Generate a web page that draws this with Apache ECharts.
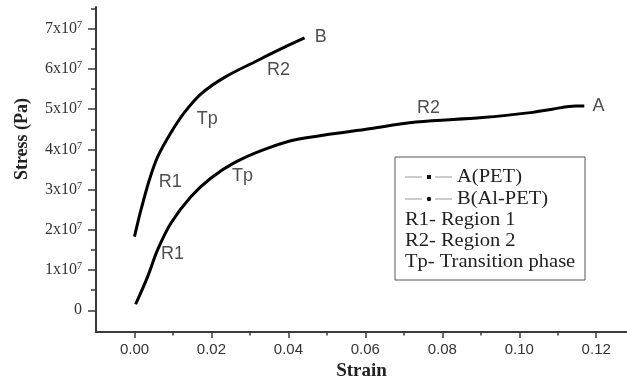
<!DOCTYPE html>
<html>
<head>
<meta charset="utf-8">
<script src="https://cdn.jsdelivr.net/npm/echarts@6/dist/echarts.min.js"></script>
<style>
  html, body { margin: 0; padding: 0; background: #fff; }
  #box { width: 627px; height: 381px; }
</style>
</head>
<body>
<div id="box"></div>
<script>
// 曲线数据 [strain, stress]
var curveA = [
    [0.0003, 0.15e7], [0.0034, 0.83e7], [0.0060, 1.50e7], [0.0095, 2.17e7],
    [0.0147, 2.83e7], [0.0199, 3.29e7], [0.0260, 3.67e7], [0.0338, 4.00e7],
    [0.0424, 4.25e7], [0.0602, 4.50e7], [0.0732, 4.68e7], [0.0905, 4.79e7],
    [0.1035, 4.92e7], [0.1086, 5.00e7], [0.1147, 5.08e7], [0.1169, 5.08e7]
];
var curveB = [
    [0.0000, 1.83e7], [0.0017, 2.50e7], [0.0039, 3.25e7], [0.0061, 3.83e7],
    [0.0095, 4.42e7], [0.0130, 4.92e7], [0.0173, 5.38e7], [0.0234, 5.79e7],
    [0.0320, 6.21e7], [0.0390, 6.54e7], [0.0442, 6.77e7]
];
// 图中标注 [strain, stress, text]
var notes = [
    [0.0484, 6.8e7, 'B'], [0.0374, 5.98e7, 'R2'], [0.0189, 4.75e7, 'Tp'],
    [0.0093, 3.19e7, 'R1'], [0.0281, 3.33e7, 'Tp'], [0.0099, 1.40e7, 'R1'],
    [0.0764, 5.02e7, 'R2'], [0.1206, 5.08e7, 'A']
];
var xMajor = [0, 0.02, 0.04, 0.06, 0.08, 0.10, 0.12];
var xMinor = [0.01, 0.03, 0.05, 0.07, 0.09, 0.11];
var yMajor = [0, 1e7, 2e7, 3e7, 4e7, 5e7, 6e7, 7e7];
var yMinor = [0.5e7, 1.5e7, 2.5e7, 3.5e7, 4.5e7, 5.5e7, 6.5e7, 7.5e7];
var legendRows = ['A(PET)', 'B(Al-PET)', 'R1- Region 1', 'R2- Region 2', 'Tp- Transition phase'];

var axisColor = '#3a3a3a';
var serif = '"Liberation Serif", "Times New Roman", serif';
var sans = '"Liberation Sans", Arial, sans-serif';

var chart = echarts.init(document.getElementById('box'));

function xAxisOf(ticks, len, showLine, showLabel) {
    return {
        type: 'value', position: 'bottom', gridIndex: 0,
        min: -0.01, max: 0.128,
        splitLine: {show: false},
        axisLine: {show: showLine, onZero: false, lineStyle: {color: axisColor, width: 2}},
        axisTick: {show: true, customValues: ticks, length: len, inside: false,
            lineStyle: {color: axisColor, width: 1.5}},
        axisLabel: {show: showLabel, customValues: ticks, margin: 10,
            fontFamily: sans, fontSize: 15, color: '#333',
            formatter: function (v) { return v.toFixed(2); }}
    };
}
function yAxisOf(ticks, len, showLine, showLabel) {
    return {
        type: 'value', position: 'left', gridIndex: 0,
        min: -0.54e7, max: 7.54e7,
        splitLine: {show: false},
        axisLine: {show: showLine, onZero: false, lineStyle: {color: axisColor, width: 2}},
        axisTick: {show: true, customValues: ticks, length: len, inside: false,
            lineStyle: {color: axisColor, width: 1.5}},
        axisLabel: {show: showLabel, customValues: ticks, margin: 14,
            fontFamily: serif, fontSize: 16, color: '#333',
            formatter: function (v) {
                if (v === 0) return '{b|0}';
                return '{b|' + Math.round(v / 1e7) + 'x10}{s|7}';
            },
            rich: {
                b: {fontFamily: serif, fontSize: 16, color: '#333'},
                s: {fontFamily: serif, fontSize: 10, color: '#333', verticalAlign: 'top', padding: [0, 0, 7, 0]}
            }}
    };
}

var legendGraphics = [{
    type: 'rect', shape: {x: 395, y: 157, width: 190, height: 123},
    style: {fill: '#fff', stroke: '#555', lineWidth: 1}, z: 10
}];
var rowY = [177, 199, 220, 241, 262];
legendRows.forEach(function (t, i) {
    var left = i < 2 ? 457 : 405;
    legendGraphics.push({
        type: 'text', x: left, y: rowY[i], z: 11, scaleX: 1.08,
        style: {text: t, fontFamily: serif, fontSize: 19, fill: '#222', verticalAlign: 'middle'}
    });
    if (i < 2) {
        legendGraphics.push({type: 'line', z: 11, shape: {x1: 405, y1: rowY[i], x2: 422, y2: rowY[i]},
            style: {stroke: '#999', lineWidth: 1}});
        legendGraphics.push({type: 'line', z: 11, shape: {x1: 435, y1: rowY[i], x2: 452, y2: rowY[i]},
            style: {stroke: '#999', lineWidth: 1}});
        if (i === 0) {
            legendGraphics.push({type: 'rect', z: 11, shape: {x: 427, y: rowY[i] - 2, width: 4, height: 4},
                style: {fill: '#111'}});
        } else {
            legendGraphics.push({type: 'circle', z: 11, shape: {cx: 429, cy: rowY[i], r: 2.2},
                style: {fill: '#111'}});
        }
    }
});
legendGraphics.push({
    type: 'text', x: 22, y: 139, rotation: Math.PI / 2, z: 11,
    style: {text: 'Stress (Pa)', fontFamily: serif, fontWeight: 'bold', fontSize: 18, fill: '#222',
        align: 'center', verticalAlign: 'middle'}
});

var option = {
    backgroundColor: '#fff',
    animation: false,
    grid: {left: 96, right: 0, top: 7, bottom: 49, containLabel: false, outerBoundsMode: 'none'},
    xAxis: [
        (function () {
            var a = xAxisOf(xMajor, 6, true, true);
            a.name = 'Strain';
            a.nameLocation = 'middle';
            a.nameGap = 27;
            a.nameTextStyle = {fontFamily: serif, fontWeight: 'bold', fontSize: 19, color: '#222'};
            return a;
        })(),
        xAxisOf(xMinor, 3.5, false, false)
    ],
    yAxis: [yAxisOf(yMajor, 8, true, true), yAxisOf(yMinor, 5, false, false)],
    series: [
        {name: 'A(PET)', type: 'line', data: curveA, smooth: 0.35, showSymbol: false,
            lineStyle: {color: '#000', width: 3}},
        {name: 'B(Al-PET)', type: 'line', data: curveB, smooth: 0.35, showSymbol: false,
            lineStyle: {color: '#000', width: 3}},
        {name: 'notes', type: 'scatter', symbolSize: 0, z: 5,
            data: notes.map(function (n) { return {value: [n[0], n[1]], name: n[2]}; }),
            label: {show: true, position: 'inside', formatter: '{b}',
                fontFamily: sans, fontSize: 18, color: '#222'}}
    ],
    graphic: legendGraphics
};
chart.setOption(option);
</script>
</body>
</html>
